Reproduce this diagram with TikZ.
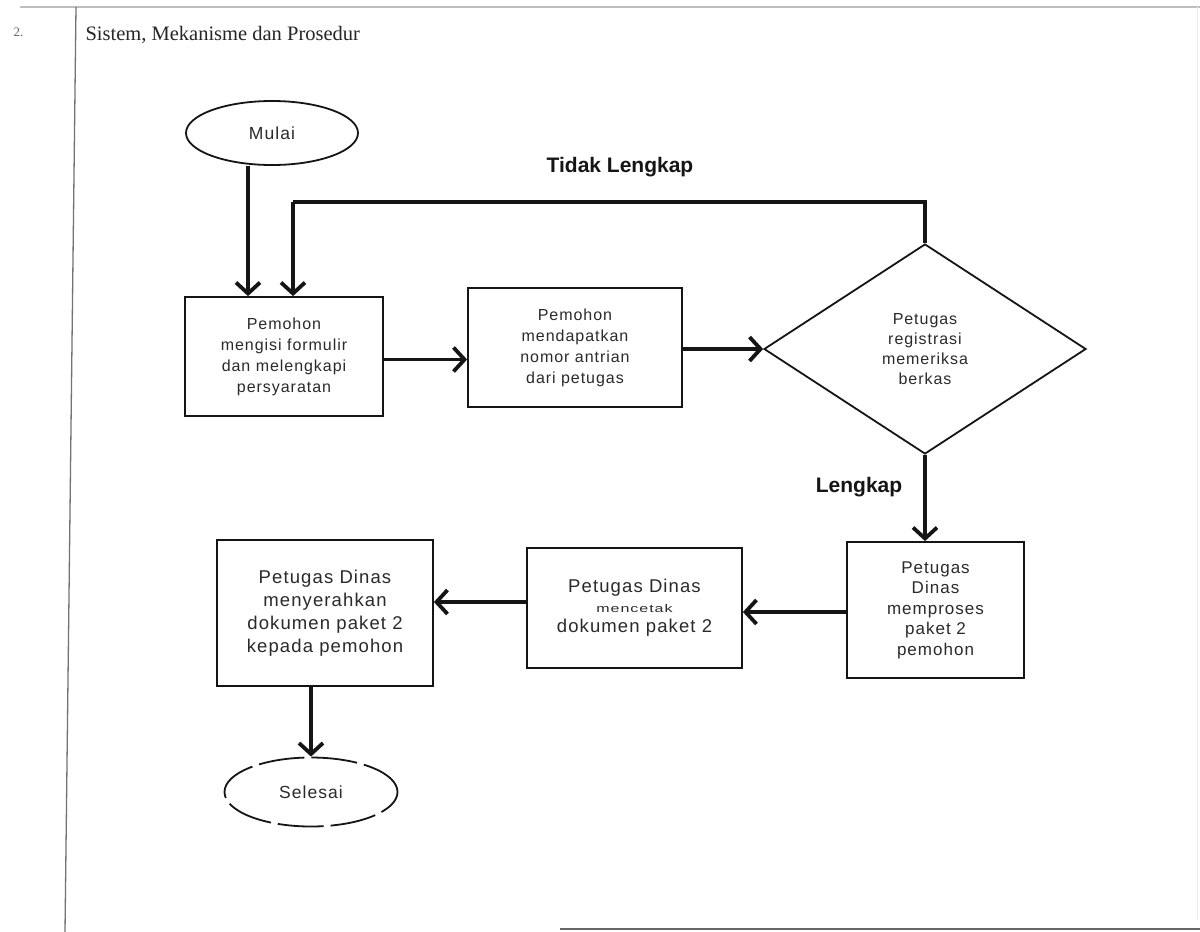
\documentclass[tikz,border=0pt]{standalone}
\usepackage{fontspec}
\usepackage{graphicx}
\setmainfont{Liberation Serif}
\newfontfamily\flowfont[LetterSpace=6]{Liberation Sans}
\newfontfamily\labelfont{Liberation Sans}
\usetikzlibrary{arrows.meta,shapes.geometric}

\definecolor{ink}{HTML}{151515}
\definecolor{txt}{HTML}{2A2A2A}

\begin{document}
\begin{tikzpicture}[x=1pt,y=-1pt,
  stepbox/.style={draw=ink, line width=1.8pt, align=center, text=txt,
    inner sep=0pt},
  smalltxt/.style={font=\flowfont\fontsize{16}{21}\selectfont},
  bigtxt/.style={font=\flowfont\fontsize{18.5}{23}\selectfont},
  terminal/.style={ellipse, draw=ink, line width=1.8pt, text=txt,
    inner sep=0pt, font=\flowfont\fontsize{17.5}{20}\selectfont},
  decision/.style={diamond, draw=ink, line width=1.8pt, align=center,
    text=txt, inner sep=0pt, font=\flowfont\fontsize{16}{20}\selectfont},
  flow/.style={draw=ink, line width=3.8pt,
    -{Straight Barb[length=11pt,width=24pt]}},
  plainline/.style={draw=ink, line width=3.8pt},
  tag/.style={text=ink, font=\labelfont\bfseries\fontsize{21}{24}\selectfont}
]
\useasboundingbox (0,0) rectangle (1200,932);
\fill[white] (0,0) rectangle (1200,932);

% table rules
\draw[black!25, line width=1.5pt] (20,7) -- (1200,7);
\draw[black!55, line width=1.3pt] (76,7) -- (65,932);
\draw[black!60, line width=2pt] (560,929) -- (1200,929);
\draw[black!8, line width=1pt] (1197,7) -- (1197,920);

% heading
\node[anchor=base west, text=black!60, font=\fontsize{13}{15}\selectfont]
  (num) at (10,36) {2.};
\node[anchor=base west, text=black!85, font=\fontsize{20.5}{24}\selectfont]
  (title) at (82,40) {Sistem, Mekanisme dan Prosedur};

% nodes
\node[terminal, minimum width=172pt, minimum height=64pt] (mulai) at (272,133) {Mulai};

\node[stepbox, smalltxt, minimum width=198pt, minimum height=119pt] (isi) at (284,356.5)
  {Pemohon\\mengisi formulir\\dan melengkapi\\persyaratan};

\node[stepbox, smalltxt, minimum width=214pt, minimum height=119pt] (antri) at (575,347.5)
  {Pemohon\\mendapatkan\\nomor antrian\\dari petugas};

\node[decision, minimum width=322pt, minimum height=210pt] (cek) at (925,349)
  {Petugas\\registrasi\\memeriksa\\berkas};

\node[stepbox, font=\flowfont\fontsize{17}{20.5}\selectfont,
  minimum width=177pt, minimum height=136pt] (proses) at (935.5,610)
  {Petugas\\Dinas\\memproses\\paket 2\\pemohon};

\node[stepbox, bigtxt, minimum width=215pt, minimum height=120pt] (cetak) at (634.5,608)
  {Petugas Dinas\\[-3pt]\scalebox{1}[0.7]{\fontsize{16}{16}\selectfont mencetak}\\[-3pt]dokumen paket 2};

\node[stepbox, bigtxt, minimum width=216pt, minimum height=146pt] (serah) at (325,613)
  {Petugas Dinas\\menyerahkan\\dokumen paket 2\\kepada pemohon};

\node[terminal, dash pattern=on 46pt off 7pt, minimum width=173pt, minimum height=69pt]
  (selesai) at (311,792) {Selesai};

% branch labels
\node[tag] (tidak) at (620,167) {Tidak Lengkap};
\node[tag] (lengkap) at (859,487) {Lengkap};

% connectors
\coordinate (m0) at ([xshift=-24pt]mulai.south);
\draw[flow] (m0) -- (m0 |- isi.north);

\coordinate (back) at (293,202);
\draw[plainline] (cek.north) |- (back);
\draw[flow] (back) -- (back |- isi.north);

\draw[flow] ([yshift=-3pt]isi.east) -- ([yshift=-3pt]isi.east -| antri.west);
\draw[flow] (antri.east |- cek.west) -- (cek.west);

\draw[flow] (cek.south) -- (cek.south |- proses.north);
\draw[flow] ([yshift=-2pt]proses.west) -- ([yshift=-2pt]proses.west -| cetak.east);
\draw[flow] ([yshift=6pt]cetak.west) -- ([yshift=6pt]cetak.west -| serah.east);
\draw[flow] (selesai.north |- serah.south) -- (selesai.north);
\end{tikzpicture}
\end{document}
